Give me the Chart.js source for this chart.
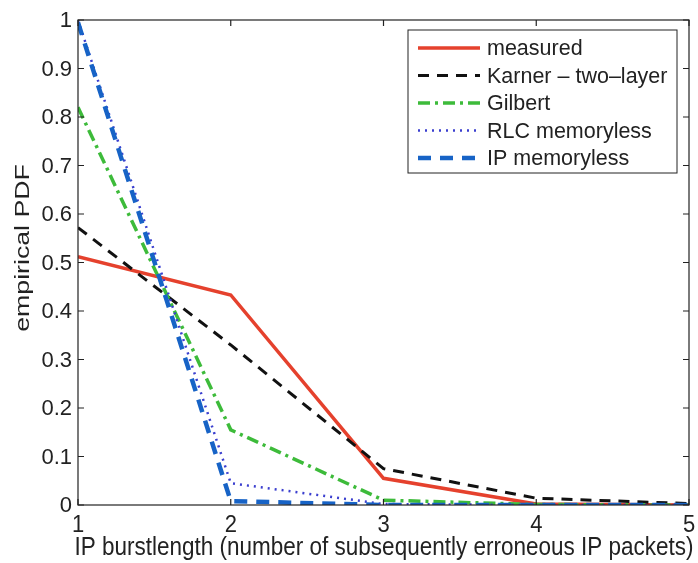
<!DOCTYPE html>
<html>
<head>
<meta charset="utf-8">
<script src="https://cdn.jsdelivr.net/npm/chart.js@4"></script>
<style>
  html, body { margin: 0; padding: 0; background: #fff; }
  #wrap { width: 698px; height: 563px; }
</style>
</head>
<body>
<div id="wrap"><canvas id="pdfChart"></canvas></div>
<script>
// burst lengths and empirical PDF per model
const burstLengths = [1, 2, 3, 4, 5];
const measured   = [0.512, 0.433, 0.055, 0.002, 0.0];
const karner     = [0.572, 0.330, 0.075, 0.014, 0.003];
const gilbert    = [0.820, 0.155, 0.010, 0.001, 0.0];
const rlcMemless = [1.000, 0.045, 0.002, 0.0, 0.0];
const ipMemless  = [0.995, 0.008, 0.0, 0.0, 0.0];
const yTicks = [0, 0.1, 0.2, 0.3, 0.4, 0.5, 0.6, 0.7, 0.8, 0.9, 1];
const xTicks = [1, 2, 3, 4, 5];
const xTitle = 'IP burstlength (number of subsequently erroneous IP packets)';
const yTitle = 'empirical PDF';

const FONT = '"Liberation Sans", Arial, sans-serif';
const INK = '#222';

function pts(ys) {
  return burstLengths.map((x, i) => ({ x: x, y: ys[i] }));
}

const series = [
  { label: 'measured', data: measured, color: '#e5412d', width: 3.5, dash: [] },
  { label: 'Karner \u2013 two\u2013layer', data: karner, color: '#111111', width: 3, dash: [11, 8] },
  { label: 'Gilbert', data: gilbert, color: '#3dbb3a', width: 3.5, dash: [12, 5, 3, 5] },
  { label: 'RLC memoryless', data: rlcMemless, color: '#3b3fcf', width: 2.5, dash: [2, 5] },
  { label: 'IP memoryless', data: ipMemless, color: '#1763c6', width: 4.5, dash: [13, 9] }
];

// text with a little stretch, optionally rotated
function drawText(ctx, text, x, y, size, sx, sy, align, rot) {
  ctx.save();
  ctx.translate(x, y);
  if (rot) ctx.rotate(rot);
  ctx.scale(sx, sy);
  ctx.font = size + 'px ' + FONT;
  ctx.fillStyle = INK;
  ctx.textAlign = align;
  ctx.textBaseline = 'middle';
  ctx.fillText(text, 0, 0);
  ctx.restore();
}

// matlab-like box with inward ticks on all four sides, plus labels
const boxTicks = {
  id: 'boxTicks',
  afterDraw(chart) {
    const ctx = chart.ctx, a = chart.chartArea;
    const xs = chart.scales.x, ys = chart.scales.y;
    ctx.save();
    ctx.strokeStyle = INK;
    ctx.lineWidth = 1.2;
    ctx.strokeRect(a.left, a.top, a.right - a.left, a.bottom - a.top);
    ctx.beginPath();
    xTicks.forEach(v => {
      const px = xs.getPixelForValue(v);
      ctx.moveTo(px, a.bottom); ctx.lineTo(px, a.bottom - 6);
      ctx.moveTo(px, a.top); ctx.lineTo(px, a.top + 6);
    });
    yTicks.forEach(v => {
      const py = ys.getPixelForValue(v);
      ctx.moveTo(a.left, py); ctx.lineTo(a.left + 6, py);
      ctx.moveTo(a.right, py); ctx.lineTo(a.right - 6, py);
    });
    ctx.stroke();
    ctx.restore();

    xTicks.forEach(v => {
      drawText(ctx, String(v), xs.getPixelForValue(v), a.bottom + 20, 22, 1, 1.1, 'center');
    });
    yTicks.forEach(v => {
      drawText(ctx, String(v), a.left - 6, ys.getPixelForValue(v) + 1, 22, 1, 1, 'right');
    });
    drawText(ctx, xTitle, 384, a.bottom + 43, 22.5, 1, 1.12, 'center');
    drawText(ctx, yTitle, 23, 248, 21, 1.27, 1, 'center', -Math.PI / 2);
  }
};

// legend box in the upper right corner
const boxLegend = {
  id: 'boxLegend',
  afterDraw(chart) {
    const ctx = chart.ctx;
    const left = 408, top = 30, w = 269, h = 143, rowH = 27.5;
    ctx.save();
    ctx.fillStyle = '#fff';
    ctx.fillRect(left, top, w, h);
    ctx.strokeStyle = INK;
    ctx.lineWidth = 1;
    ctx.strokeRect(left, top, w, h);
    series.forEach((s, i) => {
      const cy = 48 + i * rowH;
      ctx.beginPath();
      ctx.strokeStyle = s.color;
      ctx.lineWidth = s.width;
      ctx.setLineDash(s.dash);
      ctx.moveTo(418, cy);
      ctx.lineTo(480, cy);
      ctx.stroke();
      ctx.setLineDash([]);
      drawText(ctx, s.label, 487, cy + 1, 21.5, 1, 1.05, 'left');
    });
    ctx.restore();
  }
};

new Chart(document.getElementById('pdfChart'), {
  type: 'line',
  data: {
    datasets: series.map((s, i) => ({
      label: s.label,
      data: pts(s.data),
      borderColor: s.color,
      borderWidth: s.width,
      borderDash: s.dash,
      pointRadius: 0,
      tension: 0,
      fill: false,
      order: series.length - i
    }))
  },
  options: {
    responsive: true,
    maintainAspectRatio: false,
    animation: false,
    layout: { padding: { top: 20, right: 9, left: 0, bottom: 0 } },
    plugins: {
      legend: { display: false },
      tooltip: { enabled: false }
    },
    scales: {
      x: {
        type: 'linear',
        min: 1, max: 5,
        afterBuildTicks(scale) { scale.ticks = xTicks.map(v => ({ value: v })); },
        afterFit(scale) { scale.height = 58; },
        grid: { display: false },
        border: { display: false },
        ticks: { display: false }
      },
      y: {
        type: 'linear',
        min: 0, max: 1,
        afterBuildTicks(scale) { scale.ticks = yTicks.map(v => ({ value: v })); },
        afterFit(scale) { scale.width = 78; },
        grid: { display: false },
        border: { display: false },
        ticks: { display: false }
      }
    }
  },
  plugins: [boxTicks, boxLegend]
});
</script>
</body>
</html>
